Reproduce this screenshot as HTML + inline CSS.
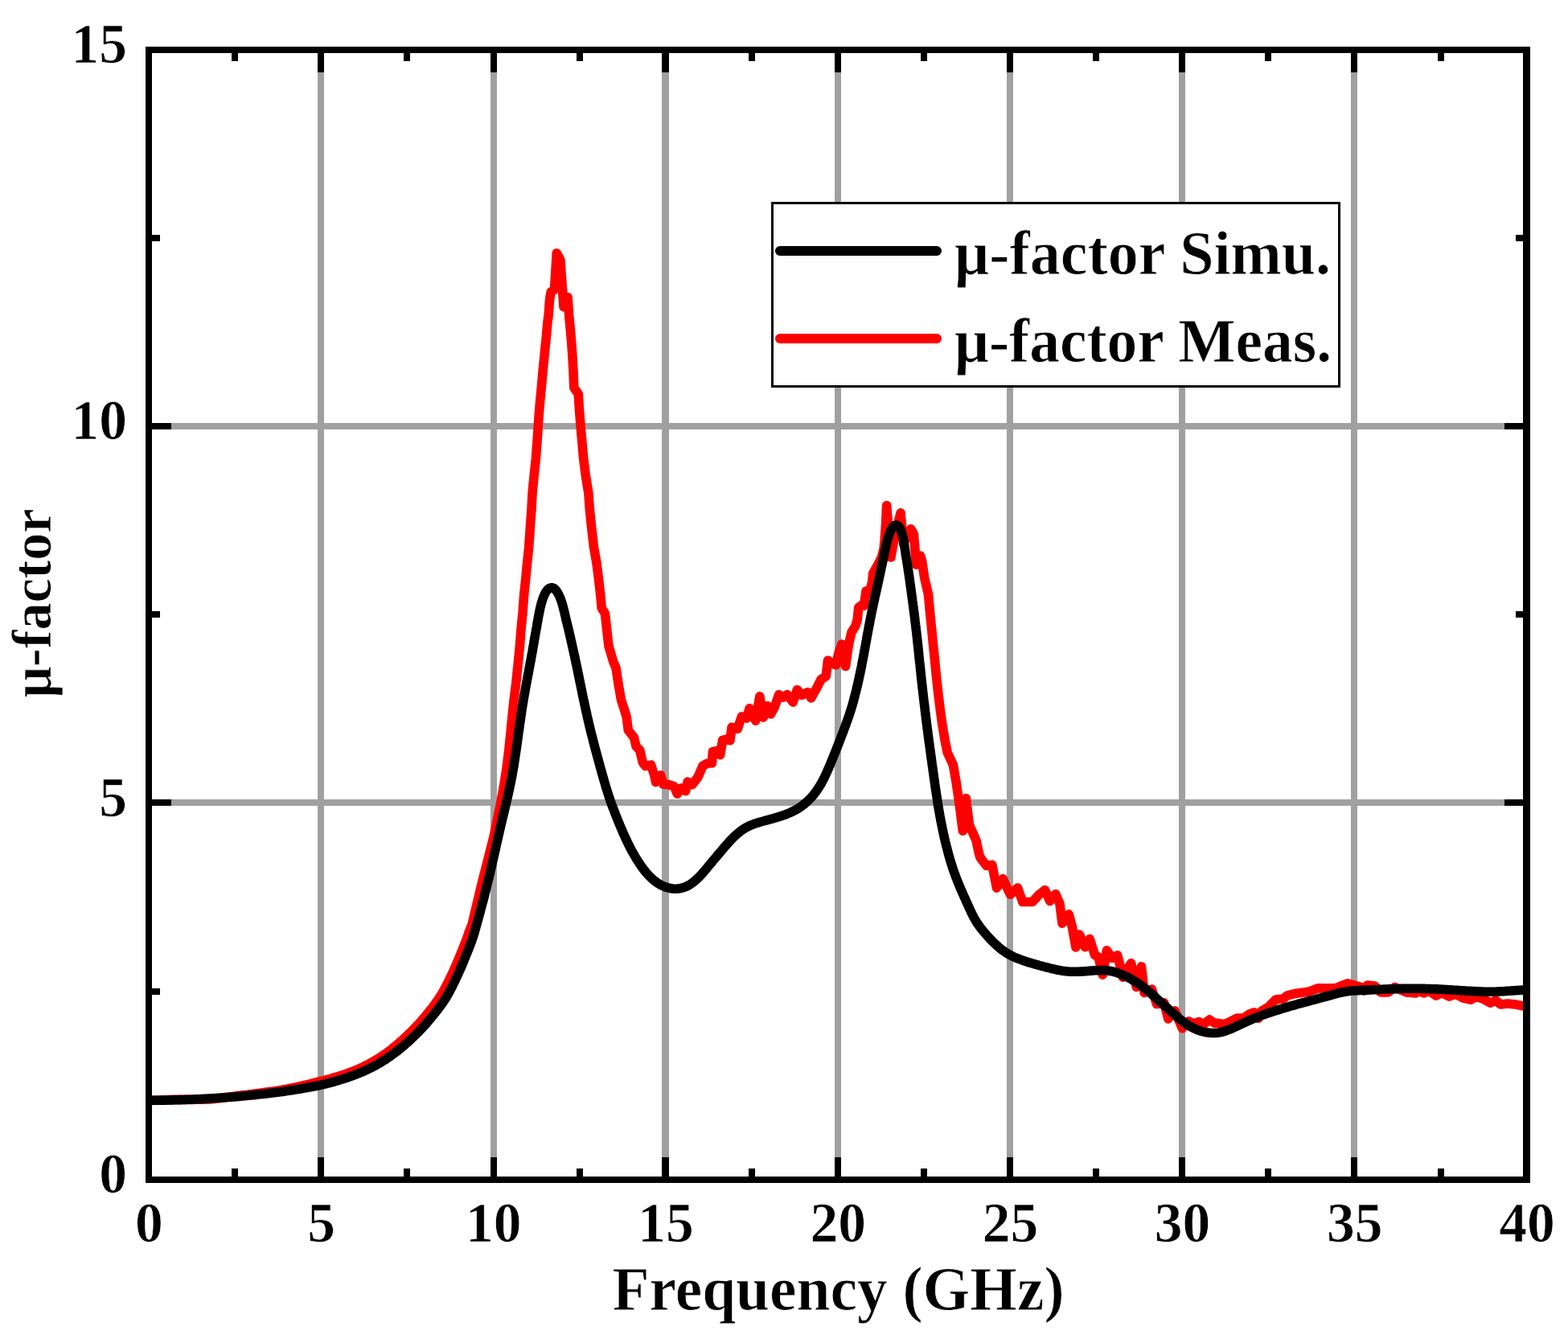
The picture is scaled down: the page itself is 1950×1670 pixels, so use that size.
<!DOCTYPE html>
<html lang="en"><head><meta charset="utf-8"><title>μ-factor vs Frequency</title>
<style>
html,body{margin:0;padding:0;background:#fff;}
body{width:1950px;height:1670px;overflow:hidden;}
svg{display:block;}
text{font-family:"Liberation Serif","DejaVu Serif",serif;font-weight:bold;fill:#000;stroke:#fff;}
.tick{font-size:69.5px;stroke-width:0.7px;}
.lab{font-size:77.2px;stroke-width:0.8px;}
</style></head><body>
<svg width="1950" height="1670" viewBox="0 0 1950 1670">
<rect width="1950" height="1670" fill="#fff"/>
<g fill="#a0a0a0" shape-rendering="crispEdges">
<rect x="395" y="62" width="8" height="1405"/>
<rect x="610" y="62" width="8" height="1405"/>
<rect x="823" y="62" width="9" height="1405"/>
<rect x="1038" y="62" width="8" height="1405"/>
<rect x="1252" y="62" width="8" height="1405"/>
<rect x="1466" y="62" width="8" height="1405"/>
<rect x="1680" y="62" width="8" height="1405"/>
<rect x="185" y="994" width="1713" height="8"/>
<rect x="185" y="526" width="1713" height="8"/>
</g>
<clipPath id="c"><rect x="185" y="62" width="1713.6" height="1405"/></clipPath>
<g clip-path="url(#c)" fill="none" stroke-width="11.6" stroke-linejoin="round" stroke-linecap="round">
<path stroke="#ff0000" d="M185.0,1368.4 L188.0,1368.3 L191.0,1368.2 L194.0,1368.1 L197.0,1368.0 L200.0,1367.9 L203.0,1367.8 L206.0,1367.7 L209.0,1367.6 L212.0,1367.5 L215.0,1367.4 L218.0,1367.4 L221.0,1367.4 L224.0,1367.4 L227.0,1367.4 L230.0,1367.4 L233.0,1367.4 L236.0,1367.4 L239.0,1367.4 L242.0,1367.3 L245.0,1367.3 L248.0,1367.2 L251.0,1367.2 L254.0,1367.1 L257.0,1367.0 L260.0,1367.0 L263.0,1366.8 L266.0,1366.4 L269.0,1366.1 L272.0,1365.7 L274.9,1365.3 L277.9,1365.0 L280.9,1364.6 L283.9,1364.2 L286.9,1363.8 L289.8,1363.4 L292.8,1363.0 L295.8,1362.6 L298.8,1362.2 L301.7,1361.8 L304.7,1361.5 L307.7,1361.2 L310.7,1360.8 L313.6,1360.4 L316.6,1360.1 L319.6,1359.7 L322.6,1359.3 L325.5,1358.9 L328.5,1358.5 L331.5,1358.1 L334.4,1357.7 L337.4,1357.3 L340.4,1356.9 L343.3,1356.4 L346.3,1356.0 L349.3,1355.5 L352.2,1355.0 L355.2,1354.5 L358.1,1353.9 L361.0,1353.3 L364.0,1352.7 L366.9,1352.1 L369.8,1351.5 L372.7,1350.8 L375.6,1350.2 L378.5,1349.5 L381.4,1348.8 L384.4,1348.1 L387.3,1347.4 L390.2,1346.7 L393.0,1346.0 L395.9,1345.2 L398.8,1344.5 L401.6,1343.8 L404.5,1343.1 L407.3,1342.3 L410.2,1341.6 L413.0,1340.8 L415.9,1339.9 L418.7,1339.1 L421.5,1338.2 L424.3,1337.3 L427.1,1336.4 L429.9,1335.4 L432.7,1334.4 L435.4,1333.4 L438.2,1332.4 L440.9,1331.3 L443.6,1330.2 L446.3,1329.1 L449.0,1327.9 L451.6,1326.6 L454.2,1325.3 L456.8,1324.0 L459.4,1322.6 L462.0,1321.2 L464.5,1319.8 L467.0,1318.3 L469.5,1316.8 L471.9,1315.3 L474.4,1313.7 L476.7,1312.1 L479.1,1310.4 L481.5,1308.7 L483.8,1307.0 L486.1,1305.2 L488.4,1303.4 L490.7,1301.5 L492.9,1299.7 L495.1,1297.8 L497.3,1295.9 L499.5,1294.0 L501.7,1292.0 L503.8,1290.0 L506.0,1288.0 L508.1,1286.0 L510.2,1284.0 L512.3,1281.9 L514.3,1279.8 L516.4,1277.7 L518.4,1275.6 L520.4,1273.5 L522.3,1271.3 L524.3,1269.1 L526.2,1266.9 L528.1,1264.7 L529.9,1262.4 L531.8,1260.2 L533.6,1257.9 L535.5,1255.5 L537.3,1253.2 L539.1,1250.9 L540.8,1248.5 L542.5,1246.2 L544.2,1243.9 L545.8,1241.5 L547.3,1239.2 L548.8,1236.8 L550.3,1234.4 L551.7,1231.9 L553.1,1229.3 L554.4,1226.7 L555.8,1224.1 L557.1,1221.5 L558.4,1218.9 L559.7,1216.2 L561.0,1213.6 L562.3,1210.9 L563.5,1208.2 L564.7,1205.5 L565.9,1202.9 L567.1,1200.2 L568.3,1197.4 L569.4,1194.7 L570.6,1192.0 L571.7,1189.2 L572.9,1186.4 L574.0,1183.7 L575.1,1180.9 L576.2,1178.2 L577.3,1175.4 L578.4,1172.7 L579.5,1170.0 L580.5,1167.2 L581.4,1164.5 L582.3,1161.8 L583.2,1159.0 L586.9,1150.0 L598.2,1102.6 L613.9,1041.0 L622.4,1000.0 L627.2,973.6 L630.3,953.1 L632.8,932.6 L634.9,912.0 L636.9,891.5 L639.0,871.0 L641.7,850.0 L644.4,823.6 L646.4,803.1 L648.0,782.6 L650.0,762.0 L651.5,741.5 L653.6,721.0 L655.6,700.5 L657.7,680.0 L659.5,653.6 L661.0,633.1 L662.1,612.6 L664.1,592.0 L666.4,570.0 L668.3,545.0 L669.7,523.1 L671.3,502.6 L673.3,482.0 L675.1,461.5 L677.1,441.0 L679.2,420.5 L681.0,400.0 L682.1,392.6 L683.6,372.0 L685.2,363.0 L689.5,360.0 L692.3,314.7 L696.8,323.0 L701.0,381.7 L706.0,369.6 L707.7,392.6 L708.4,400.0 L710.3,420.5 L711.8,441.0 L713.0,461.5 L713.8,482.0 L719.3,490.0 L720.0,502.6 L721.5,523.1 L723.3,543.6 L725.6,570.0 L728.4,592.0 L731.8,612.6 L733.3,633.1 L735.4,653.6 L738.4,680.0 L742.0,700.5 L744.6,721.0 L746.9,741.5 L748.2,756.0 L752.5,763.0 L754.6,782.6 L756.9,803.1 L763.0,823.6 L765.9,830.0 L769.0,850.5 L772.6,871.0 L776.0,881.0 L779.2,891.5 L781.3,908.0 L788.5,917.2 L791.0,928.0 L795.6,932.6 L799.2,948.0 L802.8,952.6 L809.5,951.2 L813.6,963.3 L815.6,972.6 L821.8,964.0 L824.9,975.1 L831.0,975.6 L838.2,977.7 L842.3,987.1 L847.0,980.0 L852.6,983.8 L855.1,972.1 L860.8,975.6 L867.9,966.4 L874.1,952.1 L880.3,949.0 L885.4,949.0 L886.4,934.6 L891.5,933.6 L895.6,938.7 L898.7,920.3 L903.8,919.2 L907.9,920.8 L910.0,904.4 L917.2,906.4 L922.3,891.0 L928.5,893.1 L932.1,880.8 L939.7,896.2 L944.8,865.9 L949.2,892.1 L954.4,877.7 L958.5,888.0 L963.0,880.0 L968.7,863.8 L973.8,867.0 L979.0,863.8 L986.2,873.1 L991.3,857.7 L997.4,864.4 L1004.6,860.8 L1008.7,868.0 L1015.9,855.1 L1021.0,844.9 L1027.2,840.8 L1029.5,821.2 L1034.9,825.1 L1039.5,827.0 L1043.0,811.8 L1046.7,801.0 L1051.5,828.6 L1055.4,801.5 L1059.0,786.2 L1063.6,779.0 L1066.2,770.8 L1067.7,755.4 L1071.8,752.3 L1074.4,753.3 L1077.0,735.0 L1081.0,738.0 L1084.7,723.3 L1085.7,713.1 L1091.4,702.8 L1096.5,692.6 L1099.1,682.3 L1100.1,672.0 L1101.6,651.5 L1102.6,628.6 L1107.9,693.0 L1112.0,670.0 L1116.0,655.0 L1120.0,637.8 L1123.7,676.6 L1128.0,665.0 L1132.8,657.8 L1136.3,664.0 L1139.5,702.1 L1144.6,691.1 L1146.6,697.7 L1149.6,718.2 L1153.2,733.6 L1154.6,740.0 L1156.4,760.5 L1158.5,781.0 L1160.5,801.5 L1162.6,822.0 L1164.6,842.6 L1166.9,863.1 L1169.4,883.6 L1171.7,900.0 L1175.1,920.5 L1178.2,935.9 L1185.4,951.3 L1189.0,972.0 L1193.5,1003.0 L1197.3,1033.2 L1201.3,992.8 L1205.5,1026.0 L1210.0,1036.0 L1214.0,1045.0 L1217.6,1062.0 L1219.0,1066.2 L1226.7,1076.4 L1233.8,1075.4 L1239.5,1104.1 L1247.2,1092.8 L1256.4,1112.3 L1265.6,1104.1 L1271.8,1121.5 L1284.1,1121.5 L1291.3,1113.3 L1299.5,1106.7 L1305.6,1120.5 L1312.8,1111.8 L1317.9,1123.6 L1321.0,1148.2 L1329.2,1136.9 L1333.3,1152.3 L1337.9,1177.9 L1342.4,1162.0 L1349.4,1177.7 L1355.2,1167.5 L1361.5,1187.4 L1366.0,1190.0 L1371.3,1212.1 L1376.4,1181.8 L1383.1,1191.5 L1389.7,1187.9 L1396.4,1215.1 L1401.0,1206.0 L1406.7,1197.7 L1413.3,1227.4 L1419.5,1201.8 L1423.1,1234.6 L1432.3,1230.0 L1438.5,1248.5 L1447.7,1246.9 L1452.8,1266.9 L1461.0,1256.7 L1470.3,1278.7 L1478.5,1270.0 L1484.6,1273.1 L1490.8,1270.5 L1496.9,1273.6 L1504.1,1268.0 L1510.3,1272.1 L1516.0,1272.5 L1522.6,1273.6 L1529.7,1270.5 L1538.5,1266.0 L1546.7,1266.0 L1553.8,1260.9 L1560.0,1258.8 L1565.1,1266.3 L1569.2,1257.3 L1577.4,1252.2 L1586.7,1242.9 L1595.9,1241.9 L1601.0,1237.8 L1612.3,1235.2 L1627.7,1233.2 L1639.0,1228.8 L1648.2,1229.1 L1661.5,1228.6 L1667.7,1226.0 L1675.9,1222.9 L1684.1,1225.0 L1694.4,1228.0 L1696.4,1232.0 L1700.5,1225.0 L1709.7,1226.0 L1717.2,1234.0 L1726.4,1234.0 L1734.6,1227.5 L1742.0,1231.0 L1749.0,1234.0 L1760.3,1235.0 L1765.0,1232.0 L1770.5,1235.0 L1776.7,1232.0 L1785.9,1238.1 L1793.1,1234.3 L1802.3,1239.1 L1810.0,1236.0 L1819.7,1241.2 L1829.0,1243.2 L1836.2,1239.1 L1845.4,1242.7 L1853.6,1247.1 L1860.3,1244.0 L1865.9,1248.9 L1875.0,1248.0 L1884.4,1248.9 L1893.6,1250.9 L1899.0,1251.0"/>
<path stroke="#000" d="M185.0,1368.4 L187.0,1368.4 L189.0,1368.4 L191.0,1368.3 L193.0,1368.3 L195.0,1368.3 L197.0,1368.2 L199.0,1368.2 L201.0,1368.1 L203.0,1368.1 L205.0,1368.1 L207.0,1368.0 L209.0,1368.0 L211.0,1367.9 L213.0,1367.9 L215.0,1367.9 L217.0,1367.8 L219.0,1367.8 L221.0,1367.7 L223.0,1367.6 L225.0,1367.6 L227.0,1367.5 L229.0,1367.5 L231.0,1367.4 L233.0,1367.3 L235.0,1367.2 L237.0,1367.2 L239.0,1367.1 L241.0,1367.0 L243.0,1366.9 L245.0,1366.8 L247.0,1366.7 L249.0,1366.6 L251.0,1366.5 L253.0,1366.4 L255.0,1366.3 L257.0,1366.2 L259.0,1366.1 L261.0,1366.0 L263.0,1365.8 L264.9,1365.7 L266.9,1365.6 L268.9,1365.5 L270.9,1365.3 L272.9,1365.2 L274.9,1365.1 L276.9,1364.9 L278.9,1364.8 L280.9,1364.6 L282.9,1364.5 L284.9,1364.3 L286.9,1364.2 L288.9,1364.0 L290.9,1363.9 L292.9,1363.7 L294.9,1363.5 L296.9,1363.4 L298.9,1363.2 L300.8,1363.0 L302.8,1362.8 L304.8,1362.6 L306.8,1362.5 L308.8,1362.3 L310.8,1362.1 L312.8,1361.9 L314.8,1361.7 L316.8,1361.5 L318.8,1361.2 L320.7,1361.0 L322.7,1360.8 L324.7,1360.6 L326.7,1360.4 L328.7,1360.2 L330.7,1359.9 L332.7,1359.7 L334.7,1359.5 L336.6,1359.2 L338.6,1359.0 L340.6,1358.8 L342.6,1358.5 L344.6,1358.3 L346.6,1358.0 L348.5,1357.7 L350.5,1357.5 L352.5,1357.2 L354.5,1356.9 L356.5,1356.6 L358.4,1356.3 L360.4,1356.0 L362.4,1355.7 L364.4,1355.4 L366.4,1355.1 L368.3,1354.8 L370.3,1354.5 L372.3,1354.2 L374.2,1353.8 L376.2,1353.5 L378.2,1353.1 L380.1,1352.8 L382.1,1352.4 L384.1,1352.1 L386.0,1351.7 L388.0,1351.3 L390.0,1351.0 L391.9,1350.6 L393.9,1350.2 L395.9,1349.8 L397.8,1349.4 L399.8,1348.9 L401.7,1348.5 L403.7,1348.1 L405.6,1347.6 L407.5,1347.1 L409.5,1346.6 L411.4,1346.1 L413.3,1345.6 L415.3,1345.1 L417.2,1344.5 L419.1,1344.0 L421.0,1343.4 L422.9,1342.8 L424.8,1342.2 L426.7,1341.6 L428.6,1341.0 L430.5,1340.4 L432.4,1339.8 L434.3,1339.1 L436.2,1338.4 L438.1,1337.8 L439.9,1337.1 L441.8,1336.4 L443.7,1335.6 L445.5,1334.9 L447.4,1334.1 L449.2,1333.4 L451.0,1332.6 L452.9,1331.8 L454.7,1330.9 L456.5,1330.1 L458.3,1329.2 L460.1,1328.4 L461.9,1327.5 L463.6,1326.6 L465.4,1325.6 L467.2,1324.7 L468.9,1323.7 L470.7,1322.7 L472.4,1321.8 L474.1,1320.7 L475.8,1319.7 L477.5,1318.6 L479.2,1317.6 L480.8,1316.5 L482.5,1315.3 L484.1,1314.2 L485.8,1313.1 L487.4,1311.9 L489.0,1310.7 L490.6,1309.5 L492.2,1308.3 L493.8,1307.1 L495.3,1305.9 L496.9,1304.6 L498.4,1303.4 L500.0,1302.1 L501.5,1300.8 L503.0,1299.5 L504.5,1298.2 L506.0,1296.9 L507.5,1295.6 L509.0,1294.2 L510.5,1292.9 L511.9,1291.5 L513.4,1290.1 L514.8,1288.7 L516.2,1287.3 L517.7,1285.9 L519.1,1284.5 L520.5,1283.1 L521.9,1281.7 L523.2,1280.2 L524.6,1278.8 L526.0,1277.3 L527.3,1275.9 L528.7,1274.4 L530.0,1272.9 L531.3,1271.4 L532.6,1269.9 L533.9,1268.3 L535.2,1266.8 L536.4,1265.3 L537.7,1263.7 L539.0,1262.2 L540.2,1260.6 L541.5,1259.0 L542.7,1257.5 L543.9,1255.9 L545.1,1254.3 L546.3,1252.7 L547.5,1251.1 L548.7,1249.5 L549.9,1247.9 L551.0,1246.3 L552.1,1244.6 L553.2,1242.9 L554.3,1241.3 L555.3,1239.6 L556.3,1237.8 L557.3,1236.1 L558.3,1234.4 L559.2,1232.6 L560.1,1230.8 L561.1,1229.1 L562.0,1227.3 L562.9,1225.5 L563.8,1223.7 L564.6,1221.9 L565.5,1220.1 L566.4,1218.3 L567.2,1216.5 L568.1,1214.7 L568.9,1212.9 L569.7,1211.1 L570.6,1209.3 L571.4,1207.4 L572.2,1205.6 L573.0,1203.8 L573.8,1201.9 L574.6,1200.1 L575.3,1198.3 L576.1,1196.4 L576.9,1194.6 L577.6,1192.7 L578.4,1190.9 L579.1,1189.0 L579.9,1187.2 L580.7,1185.3 L581.4,1183.5 L582.2,1181.6 L582.9,1179.8 L583.6,1177.9 L584.4,1176.0 L585.1,1174.2 L585.8,1172.3 L586.5,1170.4 L587.1,1168.6 L587.8,1166.7 L588.4,1164.8 L589.0,1162.9 L589.6,1161.0 L590.2,1159.0 L590.7,1157.1 L591.2,1155.2 L591.8,1153.3 L592.3,1151.3 L592.8,1149.4 L593.4,1147.5 L593.9,1145.6 L594.5,1143.6 L595.0,1141.7 L595.5,1139.8 L596.0,1137.9 L596.6,1135.9 L597.1,1134.0 L597.6,1132.1 L598.1,1130.1 L598.6,1128.2 L599.1,1126.3 L599.6,1124.3 L600.1,1122.4 L600.7,1120.5 L601.2,1118.5 L601.7,1116.6 L602.2,1114.7 L602.7,1112.7 L603.1,1110.8 L603.6,1108.8 L604.1,1106.9 L604.6,1105.0 L605.1,1103.0 L605.6,1101.1 L606.1,1099.1 L606.5,1097.2 L607.0,1095.3 L607.5,1093.3 L608.0,1091.4 L608.4,1089.4 L608.9,1087.5 L609.4,1085.5 L609.8,1083.6 L610.3,1081.6 L610.7,1079.7 L611.2,1077.7 L611.6,1075.8 L612.1,1073.8 L612.5,1071.9 L613.0,1069.9 L613.4,1068.0 L613.9,1066.0 L614.3,1064.1 L614.7,1062.1 L615.2,1060.2 L615.6,1058.2 L616.1,1056.3 L616.5,1054.3 L616.9,1052.4 L617.4,1050.4 L617.8,1048.5 L618.3,1046.5 L618.7,1044.6 L619.2,1042.6 L619.6,1040.7 L620.0,1038.7 L620.5,1036.8 L620.9,1034.8 L621.4,1032.9 L621.8,1030.9 L622.3,1029.0 L622.7,1027.0 L623.2,1025.1 L623.7,1023.1 L624.1,1021.2 L624.6,1019.2 L625.0,1017.3 L625.5,1015.4 L626.0,1013.4 L626.4,1011.5 L626.9,1009.5 L627.4,1007.6 L627.8,1005.6 L628.3,1003.7 L628.7,1001.7 L629.2,999.8 L629.7,997.8 L630.1,995.9 L630.6,993.9 L631.0,992.0 L631.5,990.0 L631.9,988.1 L632.3,986.1 L632.8,984.2 L633.2,982.2 L633.6,980.3 L634.0,978.3 L634.4,976.4 L634.9,974.4 L635.3,972.5 L635.6,970.5 L636.0,968.5 L636.4,966.6 L636.8,964.6 L637.1,962.6 L637.5,960.7 L637.8,958.7 L638.2,956.7 L638.5,954.8 L638.9,952.8 L639.2,950.8 L639.5,948.8 L639.8,946.9 L640.1,944.9 L640.4,942.9 L640.7,940.9 L641.0,939.0 L641.3,937.0 L641.6,935.0 L641.9,933.0 L642.2,931.1 L642.5,929.1 L642.7,927.1 L643.0,925.1 L643.3,923.1 L643.6,921.1 L643.8,919.2 L644.1,917.2 L644.4,915.2 L644.7,913.2 L644.9,911.2 L645.2,909.3 L645.5,907.3 L645.8,905.3 L646.0,903.3 L646.3,901.3 L646.6,899.4 L646.9,897.4 L647.2,895.4 L647.5,893.4 L647.7,891.4 L648.0,889.5 L648.3,887.5 L648.6,885.5 L648.9,883.5 L649.2,881.5 L649.5,879.6 L649.8,877.6 L650.1,875.6 L650.5,873.6 L650.8,871.7 L651.1,869.7 L651.4,867.7 L651.8,865.8 L652.1,863.8 L652.5,861.8 L652.8,859.8 L653.2,857.9 L653.5,855.9 L653.9,853.9 L654.3,852.0 L654.6,850.0 L655.0,848.0 L655.4,846.1 L655.7,844.1 L656.1,842.2 L656.5,840.2 L656.9,838.2 L657.2,836.3 L657.6,834.3 L658.0,832.3 L658.3,830.4 L658.7,828.4 L659.1,826.4 L659.4,824.5 L659.8,822.5 L660.2,820.5 L660.5,818.6 L660.9,816.6 L661.2,814.6 L661.6,812.7 L662.0,810.7 L662.3,808.7 L662.6,806.7 L663.0,804.8 L663.3,802.8 L663.7,800.8 L664.0,798.9 L664.3,796.9 L664.7,794.9 L665.0,793.0 L665.4,791.0 L665.7,789.0 L666.0,787.0 L666.4,785.1 L666.7,783.1 L667.1,781.1 L667.5,779.2 L667.8,777.2 L668.1,775.2 L668.5,773.3 L668.8,771.3 L669.2,769.3 L669.5,767.4 L669.9,765.4 L670.3,763.4 L670.7,761.5 L671.1,759.5 L671.5,757.6 L671.9,755.6 L672.4,753.7 L672.9,751.7 L673.4,749.8 L674.0,747.9 L674.6,746.0 L675.2,744.1 L675.9,742.2 L676.7,740.4 L677.5,738.6 L678.4,736.8 L679.5,735.1 L680.7,733.6 L682.0,732.2 L683.6,731.3 L685.4,730.8 L687.2,730.9 L688.9,731.5 L690.3,732.7 L691.6,734.1 L692.7,735.7 L693.7,737.4 L694.7,739.2 L695.5,741.0 L696.4,742.8 L697.1,744.7 L697.8,746.5 L698.4,748.4 L699.0,750.3 L699.6,752.3 L700.1,754.2 L700.6,756.1 L701.1,758.1 L701.6,760.0 L702.1,761.9 L702.5,763.9 L703.0,765.8 L703.4,767.8 L703.8,769.8 L704.3,771.7 L704.8,773.6 L705.3,775.6 L705.8,777.5 L706.2,779.4 L706.7,781.4 L707.2,783.3 L707.6,785.3 L708.1,787.2 L708.5,789.2 L709.0,791.1 L709.4,793.1 L709.9,795.0 L710.3,797.0 L710.8,798.9 L711.2,800.9 L711.6,802.8 L712.1,804.8 L712.5,806.7 L712.9,808.7 L713.4,810.6 L713.8,812.6 L714.2,814.5 L714.7,816.5 L715.1,818.5 L715.5,820.4 L715.9,822.4 L716.3,824.3 L716.7,826.3 L717.2,828.2 L717.6,830.2 L718.0,832.2 L718.4,834.1 L718.8,836.1 L719.2,838.0 L719.6,840.0 L720.0,842.0 L720.4,843.9 L720.8,845.9 L721.2,847.8 L721.6,849.8 L722.0,851.7 L722.4,853.7 L722.8,855.7 L723.2,857.6 L723.6,859.6 L724.0,861.5 L724.4,863.5 L724.8,865.5 L725.2,867.4 L725.6,869.4 L726.1,871.3 L726.5,873.3 L726.9,875.2 L727.3,877.2 L727.8,879.2 L728.2,881.1 L728.6,883.1 L729.0,885.0 L729.5,887.0 L729.9,888.9 L730.3,890.9 L730.8,892.8 L731.2,894.8 L731.7,896.7 L732.1,898.7 L732.6,900.6 L733.0,902.6 L733.5,904.5 L734.0,906.5 L734.4,908.4 L734.9,910.3 L735.4,912.3 L735.9,914.2 L736.4,916.2 L736.9,918.1 L737.4,920.0 L737.9,922.0 L738.4,923.9 L738.9,925.8 L739.4,927.8 L739.9,929.7 L740.4,931.6 L740.9,933.6 L741.5,935.5 L742.0,937.4 L742.5,939.4 L743.0,941.3 L743.6,943.2 L744.1,945.1 L744.6,947.1 L745.1,949.0 L745.7,950.9 L746.2,952.9 L746.7,954.8 L747.3,956.7 L747.8,958.6 L748.3,960.6 L748.9,962.5 L749.4,964.4 L750.0,966.3 L750.5,968.3 L751.1,970.2 L751.6,972.1 L752.2,974.0 L752.8,975.9 L753.3,977.9 L753.9,979.8 L754.5,981.7 L755.1,983.6 L755.7,985.5 L756.3,987.4 L756.9,989.3 L757.5,991.2 L758.2,993.1 L758.8,995.0 L759.5,996.9 L760.1,998.8 L760.8,1000.6 L761.5,1002.5 L762.2,1004.4 L763.0,1006.2 L763.7,1008.1 L764.4,1010.0 L765.1,1011.8 L765.8,1013.7 L766.6,1015.6 L767.3,1017.4 L768.1,1019.3 L768.8,1021.1 L769.6,1023.0 L770.3,1024.8 L771.1,1026.7 L771.9,1028.5 L772.7,1030.3 L773.5,1032.2 L774.2,1034.0 L775.0,1035.8 L775.8,1037.7 L776.7,1039.5 L777.5,1041.3 L778.3,1043.1 L779.2,1044.9 L780.0,1046.7 L780.9,1048.5 L781.8,1050.3 L782.7,1052.1 L783.6,1053.9 L784.5,1055.7 L785.4,1057.4 L786.4,1059.2 L787.4,1060.9 L788.4,1062.6 L789.4,1064.4 L790.4,1066.1 L791.4,1067.8 L792.5,1069.5 L793.6,1071.2 L794.7,1072.8 L795.8,1074.5 L796.9,1076.1 L798.0,1077.8 L799.2,1079.4 L800.4,1081.0 L801.6,1082.6 L802.9,1084.1 L804.1,1085.6 L805.5,1087.1 L806.8,1088.6 L808.2,1090.0 L809.6,1091.4 L811.1,1092.8 L812.5,1094.1 L814.1,1095.3 L815.7,1096.5 L817.3,1097.7 L818.9,1098.8 L820.6,1099.8 L822.4,1100.7 L824.2,1101.5 L826.0,1102.3 L827.8,1103.0 L829.7,1103.6 L831.6,1104.1 L833.5,1104.6 L835.5,1104.9 L837.4,1105.1 L839.3,1105.2 L841.3,1105.2 L843.2,1105.0 L845.2,1104.7 L847.1,1104.4 L849.0,1103.9 L850.9,1103.4 L852.7,1102.7 L854.5,1101.9 L856.2,1101.0 L857.9,1100.0 L859.6,1098.9 L861.2,1097.7 L862.7,1096.5 L864.3,1095.2 L865.8,1093.9 L867.2,1092.6 L868.7,1091.2 L870.1,1089.8 L871.4,1088.3 L872.8,1086.9 L874.1,1085.4 L875.4,1083.9 L876.7,1082.3 L878.0,1080.8 L879.3,1079.3 L880.6,1077.7 L881.8,1076.2 L883.1,1074.6 L884.4,1073.1 L885.7,1071.6 L886.9,1070.0 L888.2,1068.5 L889.5,1067.0 L890.8,1065.5 L892.1,1063.9 L893.4,1062.4 L894.7,1060.9 L896.0,1059.4 L897.3,1057.8 L898.6,1056.3 L899.8,1054.8 L901.1,1053.3 L902.4,1051.7 L903.8,1050.2 L905.1,1048.7 L906.4,1047.3 L907.8,1045.8 L909.1,1044.3 L910.5,1042.9 L911.9,1041.5 L913.3,1040.1 L914.8,1038.7 L916.3,1037.4 L917.8,1036.1 L919.3,1034.8 L920.9,1033.6 L922.5,1032.4 L924.1,1031.3 L925.8,1030.3 L927.5,1029.2 L929.2,1028.3 L931.0,1027.4 L932.8,1026.6 L934.6,1025.8 L936.5,1025.1 L938.3,1024.4 L940.2,1023.8 L942.1,1023.2 L944.0,1022.6 L946.0,1022.0 L947.9,1021.5 L949.8,1021.0 L951.7,1020.4 L953.7,1019.9 L955.6,1019.4 L957.5,1018.9 L959.4,1018.3 L961.4,1017.8 L963.3,1017.2 L965.2,1016.7 L967.1,1016.1 L969.0,1015.5 L970.9,1014.9 L972.8,1014.3 L974.7,1013.6 L976.6,1013.0 L978.5,1012.3 L980.3,1011.5 L982.1,1010.7 L983.9,1009.9 L985.7,1009.0 L987.5,1008.1 L989.3,1007.2 L991.0,1006.2 L992.7,1005.2 L994.4,1004.1 L996.0,1003.0 L997.6,1001.8 L999.2,1000.6 L1000.7,999.4 L1002.3,998.1 L1003.7,996.8 L1005.2,995.4 L1006.6,994.0 L1008.0,992.6 L1009.3,991.2 L1010.6,989.7 L1011.9,988.1 L1013.1,986.6 L1014.3,985.0 L1015.5,983.4 L1016.6,981.7 L1017.7,980.1 L1018.8,978.4 L1019.8,976.7 L1020.9,975.0 L1021.8,973.3 L1022.8,971.5 L1023.7,969.7 L1024.6,968.0 L1025.5,966.2 L1026.3,964.4 L1027.2,962.6 L1028.0,960.7 L1028.8,958.9 L1029.6,957.1 L1030.4,955.3 L1031.2,953.4 L1032.0,951.6 L1032.8,949.7 L1033.5,947.9 L1034.3,946.0 L1035.1,944.2 L1035.8,942.4 L1036.6,940.5 L1037.3,938.7 L1038.1,936.8 L1038.8,934.9 L1039.6,933.1 L1040.3,931.2 L1041.1,929.4 L1041.8,927.5 L1042.5,925.7 L1043.2,923.8 L1044.0,921.9 L1044.7,920.1 L1045.4,918.2 L1046.1,916.3 L1046.8,914.5 L1047.6,912.6 L1048.3,910.7 L1049.0,908.9 L1049.7,907.0 L1050.4,905.1 L1051.1,903.2 L1051.8,901.4 L1052.4,899.5 L1053.1,897.6 L1053.8,895.7 L1054.5,893.8 L1055.1,892.0 L1055.8,890.1 L1056.4,888.2 L1057.0,886.3 L1057.6,884.4 L1058.3,882.5 L1058.8,880.6 L1059.4,878.6 L1060.0,876.7 L1060.5,874.8 L1061.1,872.9 L1061.6,871.0 L1062.1,869.0 L1062.6,867.1 L1063.1,865.2 L1063.6,863.2 L1064.1,861.3 L1064.6,859.3 L1065.1,857.4 L1065.5,855.5 L1066.0,853.5 L1066.5,851.6 L1066.9,849.6 L1067.3,847.7 L1067.8,845.7 L1068.2,843.8 L1068.6,841.8 L1069.0,839.9 L1069.5,837.9 L1069.9,835.9 L1070.3,834.0 L1070.7,832.0 L1071.1,830.1 L1071.5,828.1 L1071.8,826.1 L1072.2,824.2 L1072.6,822.2 L1073.0,820.3 L1073.4,818.3 L1073.7,816.3 L1074.1,814.4 L1074.5,812.4 L1074.8,810.4 L1075.2,808.5 L1075.6,806.5 L1075.9,804.5 L1076.3,802.6 L1076.6,800.6 L1077.0,798.6 L1077.4,796.7 L1077.7,794.7 L1078.1,792.7 L1078.4,790.7 L1078.8,788.8 L1079.1,786.8 L1079.5,784.8 L1079.9,782.9 L1080.2,780.9 L1080.6,778.9 L1081.0,777.0 L1081.4,775.0 L1081.7,773.1 L1082.1,771.1 L1082.5,769.1 L1082.9,767.2 L1083.3,765.2 L1083.7,763.2 L1084.1,761.3 L1084.5,759.3 L1084.9,757.4 L1085.3,755.4 L1085.7,753.5 L1086.1,751.5 L1086.5,749.6 L1087.0,747.6 L1087.4,745.7 L1087.8,743.7 L1088.2,741.7 L1088.7,739.8 L1089.1,737.8 L1089.6,735.9 L1090.0,734.0 L1090.4,732.0 L1090.9,730.1 L1091.3,728.1 L1091.7,726.1 L1092.1,724.2 L1092.6,722.2 L1093.0,720.3 L1093.4,718.3 L1093.8,716.4 L1094.3,714.4 L1094.7,712.5 L1095.1,710.5 L1095.5,708.6 L1095.9,706.6 L1096.3,704.7 L1096.8,702.7 L1097.2,700.7 L1097.6,698.8 L1098.0,696.9 L1098.5,694.9 L1098.9,693.0 L1099.3,691.0 L1099.7,689.0 L1100.1,687.1 L1100.5,685.1 L1100.9,683.2 L1101.4,681.2 L1101.8,679.2 L1102.3,677.3 L1102.7,675.3 L1103.2,673.4 L1103.7,671.5 L1104.2,669.6 L1104.8,667.6 L1105.4,665.7 L1106.1,663.9 L1106.8,662.0 L1107.6,660.2 L1108.5,658.4 L1109.5,656.7 L1110.6,655.1 L1112.0,653.8 L1113.6,653.0 L1115.2,653.1 L1116.7,653.9 L1118.0,655.3 L1119.1,656.9 L1120.0,658.7 L1120.8,660.5 L1121.4,662.4 L1122.0,664.3 L1122.4,666.2 L1122.9,668.2 L1123.3,670.1 L1123.7,672.1 L1124.0,674.1 L1124.4,676.0 L1124.7,678.0 L1125.0,680.0 L1125.3,682.0 L1125.6,684.0 L1125.9,686.0 L1126.2,688.0 L1126.4,690.0 L1126.8,691.9 L1127.1,693.9 L1127.5,695.8 L1127.8,697.8 L1128.1,699.7 L1128.4,701.7 L1128.7,703.7 L1129.0,705.7 L1129.3,707.6 L1129.6,709.6 L1129.9,711.6 L1130.2,713.6 L1130.5,715.6 L1130.8,717.5 L1131.0,719.5 L1131.3,721.5 L1131.6,723.5 L1131.9,725.5 L1132.1,727.4 L1132.4,729.4 L1132.7,731.4 L1133.0,733.4 L1133.2,735.4 L1133.5,737.4 L1133.8,739.3 L1134.0,741.3 L1134.3,743.3 L1134.6,745.3 L1134.8,747.3 L1135.1,749.2 L1135.4,751.2 L1135.6,753.2 L1135.9,755.2 L1136.1,757.2 L1136.4,759.2 L1136.7,761.1 L1136.9,763.1 L1137.2,765.1 L1137.4,767.1 L1137.7,769.1 L1137.9,771.1 L1138.1,773.1 L1138.4,775.0 L1138.6,777.0 L1138.9,779.0 L1139.1,781.0 L1139.3,783.0 L1139.6,785.0 L1139.8,787.0 L1140.0,788.9 L1140.2,790.9 L1140.5,792.9 L1140.7,794.9 L1140.9,796.9 L1141.1,798.9 L1141.3,800.9 L1141.6,802.9 L1141.8,804.8 L1142.0,806.8 L1142.2,808.8 L1142.4,810.8 L1142.6,812.8 L1142.8,814.8 L1143.0,816.8 L1143.2,818.8 L1143.4,820.8 L1143.6,822.8 L1143.9,824.7 L1144.1,826.7 L1144.3,828.7 L1144.5,830.7 L1144.7,832.7 L1144.9,834.7 L1145.1,836.7 L1145.3,838.7 L1145.5,840.7 L1145.7,842.6 L1145.9,844.6 L1146.2,846.6 L1146.4,848.6 L1146.6,850.6 L1146.8,852.6 L1147.0,854.6 L1147.3,856.6 L1147.5,858.6 L1147.7,860.5 L1147.9,862.5 L1148.2,864.5 L1148.4,866.5 L1148.6,868.5 L1148.9,870.5 L1149.1,872.5 L1149.3,874.4 L1149.6,876.4 L1149.8,878.4 L1150.1,880.4 L1150.3,882.4 L1150.5,884.4 L1150.8,886.4 L1151.0,888.3 L1151.3,890.3 L1151.5,892.3 L1151.7,894.3 L1152.0,896.3 L1152.2,898.3 L1152.5,900.3 L1152.7,902.2 L1153.0,904.2 L1153.2,906.2 L1153.5,908.2 L1153.8,910.2 L1154.0,912.2 L1154.3,914.1 L1154.5,916.1 L1154.8,918.1 L1155.1,920.1 L1155.3,922.1 L1155.6,924.1 L1155.9,926.0 L1156.1,928.0 L1156.4,930.0 L1156.7,932.0 L1157.0,934.0 L1157.2,935.9 L1157.5,937.9 L1157.8,939.9 L1158.0,941.9 L1158.3,943.9 L1158.6,945.9 L1158.9,947.8 L1159.1,949.8 L1159.4,951.8 L1159.7,953.8 L1160.0,955.8 L1160.2,957.7 L1160.5,959.7 L1160.8,961.7 L1161.1,963.7 L1161.3,965.7 L1161.6,967.6 L1161.9,969.6 L1162.2,971.6 L1162.4,973.6 L1162.7,975.6 L1163.0,977.6 L1163.3,979.5 L1163.6,981.5 L1163.9,983.5 L1164.2,985.5 L1164.5,987.4 L1164.8,989.4 L1165.1,991.4 L1165.4,993.4 L1165.7,995.4 L1166.0,997.3 L1166.3,999.3 L1166.6,1001.3 L1166.9,1003.3 L1167.3,1005.2 L1167.6,1007.2 L1168.0,1009.2 L1168.3,1011.1 L1168.7,1013.1 L1169.0,1015.1 L1169.4,1017.0 L1169.7,1019.0 L1170.1,1021.0 L1170.5,1022.9 L1170.9,1024.9 L1171.3,1026.9 L1171.7,1028.8 L1172.1,1030.8 L1172.5,1032.7 L1172.9,1034.7 L1173.3,1036.6 L1173.8,1038.6 L1174.2,1040.5 L1174.6,1042.5 L1175.1,1044.4 L1175.5,1046.4 L1176.0,1048.3 L1176.5,1050.3 L1177.0,1052.2 L1177.5,1054.1 L1178.0,1056.1 L1178.5,1058.0 L1179.0,1059.9 L1179.5,1061.9 L1180.0,1063.8 L1180.6,1065.7 L1181.1,1067.6 L1181.7,1069.5 L1182.3,1071.5 L1182.9,1073.4 L1183.5,1075.3 L1184.1,1077.2 L1184.7,1079.1 L1185.3,1081.0 L1186.0,1082.9 L1186.6,1084.7 L1187.3,1086.6 L1188.0,1088.5 L1188.7,1090.4 L1189.4,1092.2 L1190.1,1094.1 L1190.9,1096.0 L1191.6,1097.8 L1192.4,1099.7 L1193.1,1101.5 L1193.9,1103.3 L1194.7,1105.2 L1195.5,1107.0 L1196.3,1108.8 L1197.1,1110.7 L1197.9,1112.5 L1198.7,1114.3 L1199.5,1116.1 L1200.4,1118.0 L1201.2,1119.8 L1202.0,1121.6 L1202.8,1123.4 L1203.7,1125.3 L1204.5,1127.1 L1205.3,1128.9 L1206.1,1130.7 L1207.0,1132.5 L1207.8,1134.3 L1208.7,1136.1 L1209.5,1137.9 L1210.5,1139.7 L1211.4,1141.4 L1212.4,1143.2 L1213.4,1144.9 L1214.4,1146.6 L1215.5,1148.2 L1216.7,1149.8 L1217.8,1151.5 L1219.0,1153.1 L1220.2,1154.7 L1221.5,1156.2 L1222.7,1157.8 L1224.0,1159.3 L1225.3,1160.8 L1226.6,1162.3 L1227.9,1163.8 L1229.2,1165.3 L1230.6,1166.8 L1232.0,1168.2 L1233.4,1169.7 L1234.8,1171.1 L1236.2,1172.5 L1237.6,1173.8 L1239.1,1175.2 L1240.6,1176.5 L1242.1,1177.8 L1243.6,1179.1 L1245.2,1180.4 L1246.7,1181.6 L1248.4,1182.7 L1250.0,1183.9 L1251.7,1184.9 L1253.3,1186.0 L1255.1,1187.0 L1256.8,1187.9 L1258.6,1188.8 L1260.4,1189.7 L1262.2,1190.5 L1264.0,1191.3 L1265.9,1192.0 L1267.7,1192.7 L1269.6,1193.4 L1271.5,1194.1 L1273.4,1194.7 L1275.3,1195.4 L1277.2,1196.0 L1279.1,1196.6 L1281.0,1197.2 L1282.9,1197.7 L1284.8,1198.3 L1286.7,1198.8 L1288.7,1199.4 L1290.6,1199.9 L1292.5,1200.5 L1294.4,1201.0 L1296.4,1201.5 L1298.3,1202.0 L1300.2,1202.5 L1302.2,1203.0 L1304.1,1203.5 L1306.0,1204.0 L1308.0,1204.5 L1309.9,1204.9 L1311.9,1205.4 L1313.8,1205.8 L1315.8,1206.2 L1317.7,1206.5 L1319.7,1206.9 L1321.7,1207.2 L1323.6,1207.4 L1325.6,1207.7 L1327.6,1207.9 L1329.6,1208.1 L1331.6,1208.2 L1333.6,1208.3 L1335.5,1208.3 L1337.5,1208.3 L1339.5,1208.3 L1341.5,1208.2 L1343.5,1208.1 L1345.5,1208.0 L1347.5,1207.9 L1349.5,1207.7 L1351.5,1207.6 L1353.4,1207.4 L1355.4,1207.3 L1357.4,1207.1 L1359.4,1207.0 L1361.4,1206.8 L1363.4,1206.7 L1365.4,1206.6 L1367.4,1206.6 L1369.4,1206.5 L1371.4,1206.6 L1373.4,1206.6 L1375.3,1206.8 L1377.3,1206.9 L1379.3,1207.2 L1381.2,1207.5 L1383.1,1207.9 L1385.1,1208.4 L1387.0,1209.0 L1388.9,1209.5 L1390.7,1210.2 L1392.6,1210.9 L1394.5,1211.6 L1396.3,1212.4 L1398.1,1213.2 L1399.9,1214.0 L1401.7,1214.9 L1403.5,1215.8 L1405.3,1216.8 L1407.0,1217.7 L1408.7,1218.7 L1410.4,1219.7 L1412.1,1220.8 L1413.8,1221.9 L1415.5,1223.0 L1417.1,1224.1 L1418.7,1225.2 L1420.4,1226.4 L1422.0,1227.6 L1423.5,1228.8 L1425.1,1230.0 L1426.6,1231.3 L1428.2,1232.6 L1429.7,1233.9 L1431.2,1235.2 L1432.7,1236.5 L1434.2,1237.8 L1435.7,1239.2 L1437.2,1240.5 L1438.7,1241.8 L1440.1,1243.2 L1441.6,1244.5 L1443.1,1245.8 L1444.6,1247.2 L1446.1,1248.5 L1447.6,1249.8 L1449.1,1251.2 L1450.6,1252.5 L1452.1,1253.8 L1453.6,1255.2 L1455.0,1256.5 L1456.5,1257.9 L1458.0,1259.2 L1459.5,1260.5 L1461.0,1261.9 L1462.5,1263.2 L1464.0,1264.5 L1465.5,1265.8 L1467.0,1267.1 L1468.6,1268.3 L1470.2,1269.5 L1471.8,1270.7 L1473.4,1271.9 L1475.0,1273.1 L1476.7,1274.2 L1478.3,1275.2 L1480.1,1276.2 L1481.8,1277.2 L1483.5,1278.1 L1485.3,1279.0 L1487.1,1279.8 L1489.0,1280.6 L1490.8,1281.3 L1492.7,1281.9 L1494.6,1282.5 L1496.5,1283.0 L1498.4,1283.5 L1500.4,1283.8 L1502.3,1284.1 L1504.3,1284.3 L1506.3,1284.5 L1508.3,1284.5 L1510.2,1284.5 L1512.2,1284.4 L1514.2,1284.2 L1516.1,1283.9 L1518.1,1283.6 L1520.0,1283.2 L1521.9,1282.6 L1523.8,1282.1 L1525.7,1281.4 L1527.5,1280.7 L1529.4,1280.0 L1531.2,1279.2 L1533.0,1278.4 L1534.9,1277.5 L1536.7,1276.7 L1538.5,1275.9 L1540.3,1275.0 L1542.1,1274.2 L1543.9,1273.3 L1545.7,1272.5 L1547.5,1271.6 L1549.4,1270.8 L1551.2,1270.0 L1553.0,1269.2 L1554.8,1268.4 L1556.7,1267.6 L1558.5,1266.8 L1560.4,1266.1 L1562.2,1265.3 L1564.1,1264.6 L1565.9,1263.8 L1567.8,1263.1 L1569.7,1262.4 L1571.5,1261.7 L1573.4,1261.1 L1575.3,1260.4 L1577.2,1259.8 L1579.1,1259.1 L1581.0,1258.5 L1582.9,1257.9 L1584.8,1257.3 L1586.7,1256.7 L1588.6,1256.1 L1590.5,1255.5 L1592.4,1254.9 L1594.3,1254.3 L1596.2,1253.7 L1598.2,1253.1 L1600.1,1252.6 L1602.0,1252.0 L1603.9,1251.4 L1605.8,1250.9 L1607.8,1250.3 L1609.7,1249.8 L1611.6,1249.3 L1613.5,1248.7 L1615.5,1248.2 L1617.4,1247.7 L1619.3,1247.1 L1621.2,1246.6 L1623.2,1246.1 L1625.1,1245.6 L1627.0,1245.0 L1629.0,1244.5 L1630.9,1244.0 L1632.8,1243.5 L1634.8,1243.0 L1636.7,1242.5 L1638.6,1241.9 L1640.6,1241.4 L1642.5,1240.9 L1644.4,1240.4 L1646.4,1239.9 L1648.3,1239.4 L1650.2,1238.9 L1652.1,1238.3 L1654.1,1237.8 L1656.0,1237.3 L1657.9,1236.7 L1659.8,1236.2 L1661.8,1235.7 L1663.7,1235.2 L1665.6,1234.7 L1667.6,1234.2 L1669.5,1233.8 L1671.5,1233.5 L1673.5,1233.1 L1675.4,1232.8 L1677.4,1232.5 L1679.4,1232.3 L1681.4,1232.1 L1683.3,1231.9 L1685.3,1231.8 L1687.3,1231.7 L1689.3,1231.6 L1691.3,1231.5 L1693.3,1231.4 L1695.3,1231.4 L1697.3,1231.3 L1699.3,1231.2 L1701.3,1231.1 L1703.3,1231.0 L1705.3,1230.9 L1707.3,1230.8 L1709.3,1230.7 L1711.3,1230.6 L1713.3,1230.5 L1715.3,1230.4 L1717.3,1230.3 L1719.3,1230.2 L1721.3,1230.1 L1723.3,1230.0 L1725.3,1230.0 L1727.3,1229.9 L1729.3,1229.8 L1731.3,1229.7 L1733.3,1229.7 L1735.3,1229.6 L1737.3,1229.6 L1739.3,1229.5 L1741.3,1229.5 L1743.3,1229.4 L1745.3,1229.4 L1747.3,1229.3 L1749.3,1229.3 L1751.3,1229.3 L1753.3,1229.3 L1755.3,1229.3 L1757.3,1229.3 L1759.3,1229.3 L1761.3,1229.3 L1763.2,1229.3 L1765.2,1229.3 L1767.2,1229.3 L1769.2,1229.4 L1771.2,1229.4 L1773.2,1229.5 L1775.2,1229.5 L1777.2,1229.6 L1779.2,1229.6 L1781.2,1229.7 L1783.2,1229.8 L1785.2,1229.9 L1787.2,1229.9 L1789.2,1230.0 L1791.2,1230.1 L1793.2,1230.2 L1795.2,1230.3 L1797.2,1230.5 L1799.2,1230.6 L1801.2,1230.7 L1803.2,1230.8 L1805.2,1230.9 L1807.2,1231.1 L1809.2,1231.2 L1811.2,1231.3 L1813.2,1231.4 L1815.2,1231.6 L1817.2,1231.7 L1819.2,1231.8 L1821.2,1231.9 L1823.2,1232.1 L1825.2,1232.2 L1827.2,1232.3 L1829.1,1232.4 L1831.1,1232.5 L1833.1,1232.6 L1835.1,1232.7 L1837.1,1232.8 L1839.1,1232.9 L1841.1,1233.0 L1843.1,1233.1 L1845.1,1233.2 L1847.1,1233.3 L1849.1,1233.3 L1851.1,1233.3 L1853.1,1233.3 L1855.1,1233.3 L1857.1,1233.2 L1859.1,1233.2 L1861.1,1233.1 L1863.1,1233.0 L1865.1,1232.9 L1867.1,1232.8 L1869.1,1232.7 L1871.1,1232.6 L1873.0,1232.4 L1875.0,1232.3 L1877.0,1232.2 L1879.0,1232.0 L1881.0,1231.9 L1883.0,1231.7 L1885.0,1231.6 L1887.0,1231.5 L1889.0,1231.4 L1891.0,1231.2 L1893.0,1231.1 L1895.0,1231.0 L1897.0,1231.0 L1899.0,1231.0"/>
</g>
<rect x="960.5" y="252.5" width="705" height="228" fill="#fff" stroke="#000" stroke-width="3"/>
<g fill="none" stroke-width="12" stroke-linecap="round">
<path stroke="#000" d="M970,312H1165"/>
<path stroke="#ff0000" d="M970,421H1165"/>
</g>
<text class="lab" x="1187.1" y="341" textLength="468" lengthAdjust="spacingAndGlyphs">μ-factor Simu.</text>
<text class="lab" x="1187.1" y="450.2" textLength="469" lengthAdjust="spacingAndGlyphs">μ-factor Meas.</text>
<g fill="#000" shape-rendering="crispEdges">
<rect x="395" y="62" width="8" height="28"/>
<rect x="395" y="1439" width="8" height="28"/>
<rect x="610" y="62" width="8" height="28"/>
<rect x="610" y="1439" width="8" height="28"/>
<rect x="823" y="62" width="9" height="28"/>
<rect x="823" y="1439" width="9" height="28"/>
<rect x="1038" y="62" width="8" height="28"/>
<rect x="1038" y="1439" width="8" height="28"/>
<rect x="1252" y="62" width="8" height="28"/>
<rect x="1252" y="1439" width="8" height="28"/>
<rect x="1466" y="62" width="8" height="28"/>
<rect x="1466" y="1439" width="8" height="28"/>
<rect x="1680" y="62" width="8" height="28"/>
<rect x="1680" y="1439" width="8" height="28"/>
<rect x="288" y="62" width="8" height="14"/>
<rect x="288" y="1453" width="8" height="14"/>
<rect x="502" y="62" width="8" height="14"/>
<rect x="502" y="1453" width="8" height="14"/>
<rect x="717" y="62" width="8" height="14"/>
<rect x="717" y="1453" width="8" height="14"/>
<rect x="931" y="62" width="8" height="14"/>
<rect x="931" y="1453" width="8" height="14"/>
<rect x="1145" y="62" width="8" height="14"/>
<rect x="1145" y="1453" width="8" height="14"/>
<rect x="1359" y="62" width="8" height="14"/>
<rect x="1359" y="1453" width="8" height="14"/>
<rect x="1573" y="62" width="8" height="14"/>
<rect x="1573" y="1453" width="8" height="14"/>
<rect x="1788" y="62" width="8" height="14"/>
<rect x="1788" y="1453" width="8" height="14"/>
<rect x="185" y="994" width="28" height="8"/>
<rect x="1871" y="994" width="28" height="8"/>
<rect x="185" y="526" width="28" height="8"/>
<rect x="1871" y="526" width="28" height="8"/>
<rect x="185" y="1229" width="14" height="8"/>
<rect x="1885" y="1229" width="14" height="8"/>
<rect x="185" y="760" width="14" height="8"/>
<rect x="1885" y="760" width="14" height="8"/>
<rect x="185" y="292" width="14" height="8"/>
<rect x="1885" y="292" width="14" height="8"/>
<rect x="181" y="58" width="8" height="1413"/>
<rect x="1894" y="58" width="9" height="1413"/>
<rect x="181" y="58" width="1722" height="8"/>
<rect x="181" y="1463" width="1722" height="8"/>
</g>
<text class="tick" x="185.4" y="1544.2" text-anchor="middle">0</text>
<text class="tick" x="399.6" y="1544.2" text-anchor="middle">5</text>
<text class="tick" x="613.8" y="1544.2" text-anchor="middle">10</text>
<text class="tick" x="828.0" y="1544.2" text-anchor="middle">15</text>
<text class="tick" x="1042.2" y="1544.2" text-anchor="middle">20</text>
<text class="tick" x="1256.4" y="1544.2" text-anchor="middle">25</text>
<text class="tick" x="1470.6" y="1544.2" text-anchor="middle">30</text>
<text class="tick" x="1684.8" y="1544.2" text-anchor="middle">35</text>
<text class="tick" x="1899.0" y="1544.2" text-anchor="middle">40</text>
<text class="tick" x="158" y="1483.0" text-anchor="end">0</text>
<text class="tick" x="158" y="1014.7" text-anchor="end">5</text>
<text class="tick" x="158" y="546.3" text-anchor="end">10</text>
<text class="tick" x="158" y="78.0" text-anchor="end">15</text>
<text class="lab" x="761.5" y="1628.8" textLength="562" lengthAdjust="spacingAndGlyphs">Frequency (GHz)</text>
<text class="tick" transform="translate(63.3,867.5) rotate(-90)" textLength="235" lengthAdjust="spacingAndGlyphs">μ-factor</text>
</svg></body></html>
